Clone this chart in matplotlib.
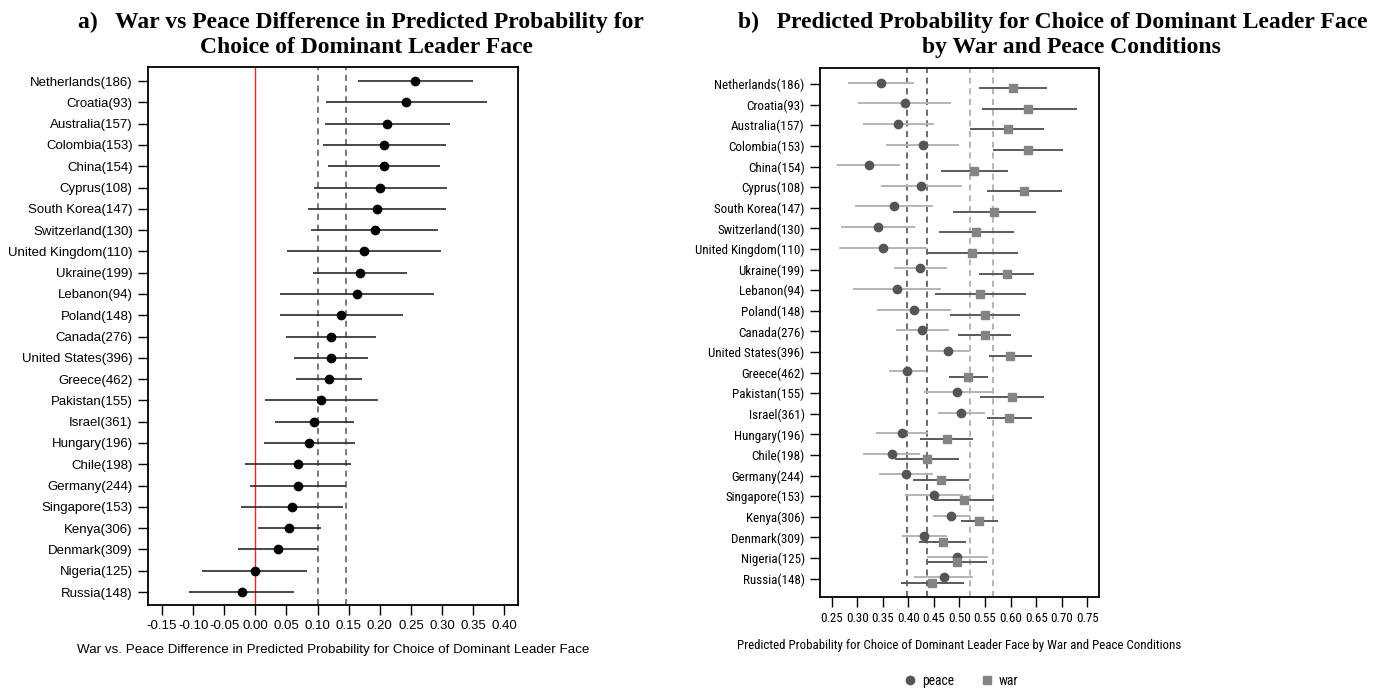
import numpy as np
import matplotlib
matplotlib.use('Agg')
import matplotlib.pyplot as plt
from matplotlib.lines import Line2D
from matplotlib import font_manager

# ========== data ==========
countries = ["Netherlands(186)", "Croatia(93)", "Australia(157)", "Colombia(153)", "China(154)",
             "Cyprus(108)", "South Korea(147)", "Switzerland(130)", "United Kingdom(110)", "Ukraine(199)",
             "Lebanon(94)", "Poland(148)", "Canada(276)", "United States(396)", "Greece(462)",
             "Pakistan(155)", "Israel(361)", "Hungary(196)", "Chile(198)", "Germany(244)",
             "Singapore(153)", "Kenya(306)", "Denmark(309)", "Nigeria(125)", "Russia(148)"]

# panel a: war - peace difference
diff = [0.257, 0.242, 0.212, 0.206, 0.206, 0.201, 0.196, 0.192, 0.174, 0.168,
        0.163, 0.138, 0.121, 0.121, 0.119, 0.106, 0.094, 0.086, 0.068, 0.068,
        0.059, 0.054, 0.036, -0.001, -0.022]
diff_lo = [0.165, 0.113, 0.112, 0.108, 0.116, 0.094, 0.085, 0.090, 0.051, 0.093,
           0.039, 0.039, 0.049, 0.062, 0.066, 0.015, 0.031, 0.014, -0.016, -0.009,
           -0.023, 0.004, -0.028, -0.086, -0.107]
diff_hi = [0.350, 0.372, 0.313, 0.306, 0.296, 0.308, 0.307, 0.294, 0.298, 0.243,
           0.287, 0.238, 0.194, 0.181, 0.172, 0.197, 0.159, 0.160, 0.153, 0.145,
           0.141, 0.105, 0.100, 0.083, 0.062]
diff_ref = [0.100, 0.145]

# panel b: predicted probabilities
peace = [0.346, 0.393, 0.380, 0.428, 0.322, 0.424, 0.372, 0.340, 0.350, 0.423,
         0.378, 0.411, 0.427, 0.477, 0.398, 0.496, 0.503, 0.387, 0.367, 0.396,
         0.450, 0.484, 0.431, 0.496, 0.469]
peace_lo = [0.282, 0.302, 0.311, 0.356, 0.260, 0.346, 0.295, 0.269, 0.264, 0.372,
            0.292, 0.338, 0.376, 0.437, 0.362, 0.430, 0.457, 0.337, 0.311, 0.342,
            0.393, 0.448, 0.387, 0.437, 0.411]
peace_hi = [0.411, 0.484, 0.451, 0.500, 0.384, 0.504, 0.448, 0.412, 0.437, 0.476,
            0.464, 0.484, 0.479, 0.521, 0.435, 0.565, 0.549, 0.439, 0.423, 0.449,
            0.507, 0.521, 0.476, 0.556, 0.527]
war = [0.605, 0.635, 0.594, 0.635, 0.528, 0.627, 0.567, 0.532, 0.525, 0.592,
       0.541, 0.549, 0.549, 0.599, 0.517, 0.603, 0.597, 0.475, 0.436, 0.464,
       0.508, 0.539, 0.467, 0.495, 0.446]
war_lo = [0.538, 0.544, 0.521, 0.566, 0.463, 0.554, 0.488, 0.459, 0.436, 0.538,
          0.452, 0.481, 0.497, 0.558, 0.479, 0.541, 0.554, 0.423, 0.374, 0.409,
          0.450, 0.503, 0.421, 0.437, 0.385]
war_hi = [0.671, 0.729, 0.665, 0.703, 0.595, 0.700, 0.649, 0.606, 0.614, 0.646,
          0.631, 0.618, 0.601, 0.641, 0.556, 0.665, 0.642, 0.527, 0.499, 0.519,
          0.568, 0.575, 0.512, 0.554, 0.508]
peace_ref = [0.397, 0.437]
war_ref = [0.521, 0.565]

a_ticks = [-0.15, -0.10, -0.05, 0.00, 0.05, 0.10, 0.15, 0.20, 0.25, 0.30, 0.35, 0.40]
b_ticks = [0.25, 0.30, 0.35, 0.40, 0.45, 0.50, 0.55, 0.60, 0.65, 0.70, 0.75]

# ========== fonts ==========
names = {f.name for f in font_manager.fontManager.ttflist}


def pick(*cands):
    for c in cands:
        if c in names:
            return c
    return 'DejaVu Sans'


sans = pick('Liberation Sans', 'Arimo')
narrow = pick('Liberation Sans Narrow', 'Arial Narrow', 'Roboto Condensed', 'PT Sans Narrow', 'Liberation Sans')
serif = pick('Liberation Serif', 'Tinos', 'DejaVu Serif')

W, H = 1384, 691
fig = plt.figure(figsize=(W / 100, H / 100), dpi=100)


def box(x0, y0, x1, y1):
    return [x0 / W, 1 - y1 / H, (x1 - x0) / W, (y1 - y0) / H]


n = len(countries)
ypos = np.arange(n)[::-1]

# ========== panel a ==========
ax1 = fig.add_axes(box(148, 67, 518, 605))
ax1.axvline(0, color='#e8281e', lw=1.0, zorder=1)
for r in diff_ref:
    ax1.axvline(r, color='#555555', lw=1.1, ls=(0, (4, 3)), zorder=1)
ax1.hlines(ypos, diff_lo, diff_hi, color='#2a2a2a', lw=1.2, zorder=2)
ax1.plot(diff, ypos, 'o', color='black', ms=6, zorder=3)
ax1.set_xlim(-0.1725, 0.422)
ax1.set_ylim(-0.61, n - 1 + 0.66)
ax1.set_yticks(ypos)
ax1.set_yticklabels(countries, fontfamily=sans, fontsize=9.5)
ax1.set_xticks(a_ticks)
ax1.set_xticklabels([f"{t:.2f}" for t in a_ticks], fontfamily=sans, fontsize=9.5)
ax1.set_xlabel("War vs. Peace Difference in Predicted Probability for Choice of Dominant Leader Face",
               fontfamily=sans, fontsize=9.6)
ax1.xaxis.set_label_coords((333 - 148) / (518 - 148), -0.072)
ax1.tick_params(length=7, width=1.0, pad=4)
for s in ax1.spines.values():
    s.set_linewidth(1.3)
fig.text(361 / W, 1 - 28 / H, "a)   War vs Peace Difference in Predicted Probability for",
         ha='center', va='baseline', fontfamily=serif, fontweight='bold', fontsize=17)
fig.text(366 / W, 1 - 53 / H, "Choice of Dominant Leader Face",
         ha='center', va='baseline', fontfamily=serif, fontweight='bold', fontsize=17)

# ========== panel b ==========
ax2 = fig.add_axes(box(820, 68, 1099, 597))
for r in peace_ref:
    ax2.axvline(r, color='#444444', lw=1.1, ls=(0, (4, 3)), zorder=1)
for r in war_ref:
    ax2.axvline(r, color='#a0a0a0', lw=1.1, ls=(0, (4, 3)), zorder=1)
yp = ypos + 0.06
yw = ypos - 0.2
ax2.hlines(yp, peace_lo, peace_hi, color='#b4b4b4', lw=1.4, zorder=2)
ax2.hlines(yw, war_lo, war_hi, color='#5a5a5a', lw=1.4, zorder=2)
ax2.plot(peace, yp, 'o', color='#555555', ms=6, zorder=3)
ax2.plot(war, yw, 's', color='#848484', ms=6, zorder=3)
ax2.set_xlim(0.227, 0.773)
ax2.set_ylim(-0.89, n - 1 + 0.78)
ax2.set_yticks(ypos)
ax2.set_yticklabels(countries, fontfamily=narrow, fontsize=9.4)
ax2.set_xticks(b_ticks)
ax2.set_xticklabels([f"{t:.2f}" for t in b_ticks], fontfamily=narrow, fontsize=9.4)
ax2.set_xlabel("Predicted Probability for Choice of Dominant Leader Face by War and Peace Conditions",
               fontfamily=narrow, fontsize=9.3, labelpad=10)
ax2.tick_params(length=7, width=1.0, pad=4)
for s in ax2.spines.values():
    s.set_linewidth(1.3)
fig.text(1053 / W, 1 - 28 / H, "b)   Predicted Probability for Choice of Dominant Leader Face",
         ha='center', va='baseline', fontfamily=serif, fontweight='bold', fontsize=17)
fig.text(1071 / W, 1 - 53 / H, "by War and Peace Conditions",
         ha='center', va='baseline', fontfamily=serif, fontweight='bold', fontsize=17)

handles = [Line2D([], [], marker='o', ls='', color='#555555', ms=6, label='peace'),
           Line2D([], [], marker='s', ls='', color='#848484', ms=6, label='war')]
fig.legend(handles=handles, loc='center', bbox_to_anchor=(960 / W, 1 - 681 / H), ncol=2, frameon=False,
           prop={'family': narrow, 'size': 9.8}, handletextpad=0.3, columnspacing=1.8, handlelength=1.2)

fig.savefig("out.png", dpi=100)
